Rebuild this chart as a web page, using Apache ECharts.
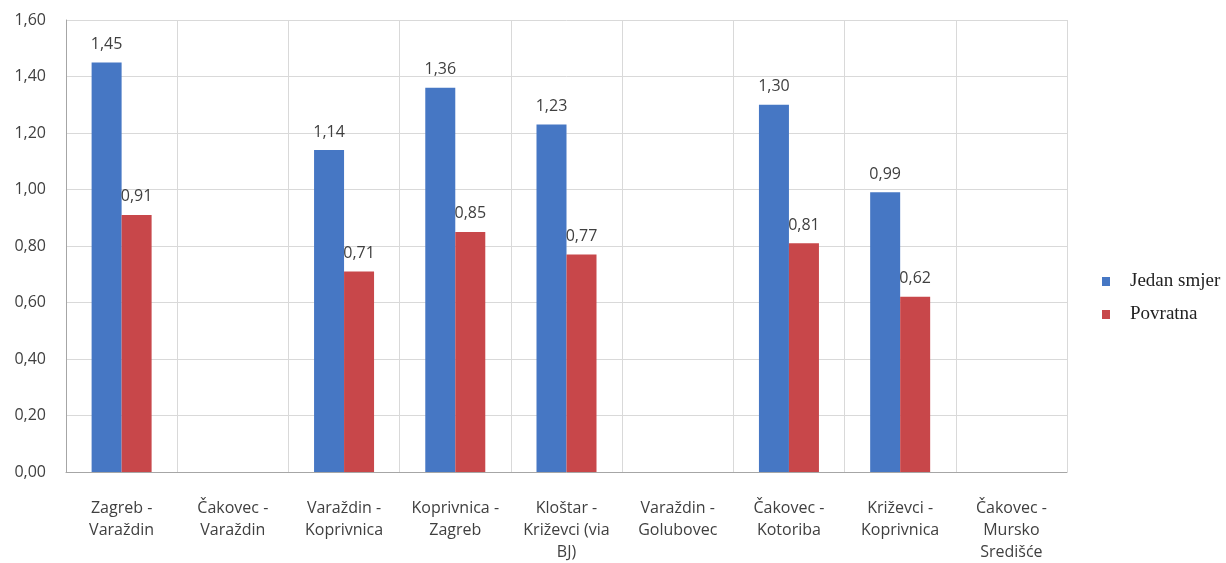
<!DOCTYPE html>
<html>
<head>
<meta charset="utf-8">
<script src="https://cdn.jsdelivr.net/npm/echarts@6/dist/echarts.min.js"></script>
<style>
  html, body { margin: 0; padding: 0; background: #ffffff; }
  #chart { width: 1226px; height: 563px; }
</style>
</head>
<body>
<div id="chart"></div>
<script>
// Route names (line breaks where the axis labels wrap)
const routes = [
  'Zagreb -\nVaraždin',
  'Čakovec -\nVaraždin',
  'Varaždin -\nKoprivnica',
  'Koprivnica -\nZagreb',
  'Kloštar -\nKriževci (via\nBJ)',
  'Varaždin -\nGolubovec',
  'Čakovec -\nKotoriba',
  'Križevci -\nKoprivnica',
  'Čakovec -\nMursko\nSredišće'
];

// One-way fare and return fare per route (null = no value)
const jedanSmjer = [1.45, null, 1.14, 1.36, 1.23, null, 1.30, 0.99, null];
const povratna   = [0.91, null, 0.71, 0.85, 0.77, null, 0.81, 0.62, null];

// Value axis tick range
const yMin = 0;
const yMax = 1.6;
const yStep = 0.2;

const seriesNames = ['Jedan smjer', 'Povratna'];

const fmt = v => v.toFixed(2).replace('.', ',');
const textColor = '#404040';
const uiFont = '"Open Sans", "Noto Sans", sans-serif';

const chart = echarts.init(document.getElementById('chart'), null, { renderer: 'canvas' });

function barSeries(name, values, color) {
  return {
    name: name,
    type: 'bar',
    data: values,
    barWidth: 30,
    barGap: '0%',
    itemStyle: { color: color },
    label: {
      show: true,
      position: 'top',
      distance: 10,
      color: textColor,
      fontFamily: uiFont,
      fontSize: 16,
      formatter: p => (p.value == null ? '' : fmt(p.value))
    }
  };
}

chart.setOption({
  animation: false,
  backgroundColor: '#ffffff',
  grid: { left: 66, right: 159, top: 20, bottom: 91, containLabel: false },
  legend: {
    orient: 'vertical',
    left: 1097,
    top: 267,
    itemWidth: 8,
    itemHeight: 9,
    itemGap: 14,
    icon: 'rect',
    data: seriesNames,
    textStyle: {
      fontFamily: '"Liberation Serif", "DejaVu Serif", serif',
      fontSize: 19,
      color: '#222222',
      padding: [4, 0, 0, 15]
    }
  },
  xAxis: {
    type: 'category',
    data: routes,
    axisLine: { show: true, lineStyle: { color: '#a6a6a6', width: 1 } },
    axisTick: { show: false },
    splitLine: { show: true, lineStyle: { color: '#d9d9d9', width: 1 } },
    axisLabel: {
      interval: 0,
      margin: 25,
      color: textColor,
      fontFamily: uiFont,
      fontSize: 16,
      lineHeight: 22
    }
  },
  yAxis: {
    type: 'value',
    min: yMin,
    max: yMax,
    interval: yStep,
    axisLine: { show: true, lineStyle: { color: '#a6a6a6', width: 1 } },
    axisTick: { show: false },
    splitLine: { show: true, lineStyle: { color: '#d9d9d9', width: 1 } },
    axisLabel: {
      margin: 20,
      color: textColor,
      fontFamily: uiFont,
      fontSize: 16,
      formatter: v => fmt(v)
    }
  },
  series: [
    barSeries(seriesNames[0], jedanSmjer, '#4677C4'),
    barSeries(seriesNames[1], povratna, '#C8474A')
  ]
});
</script>
</body>
</html>
